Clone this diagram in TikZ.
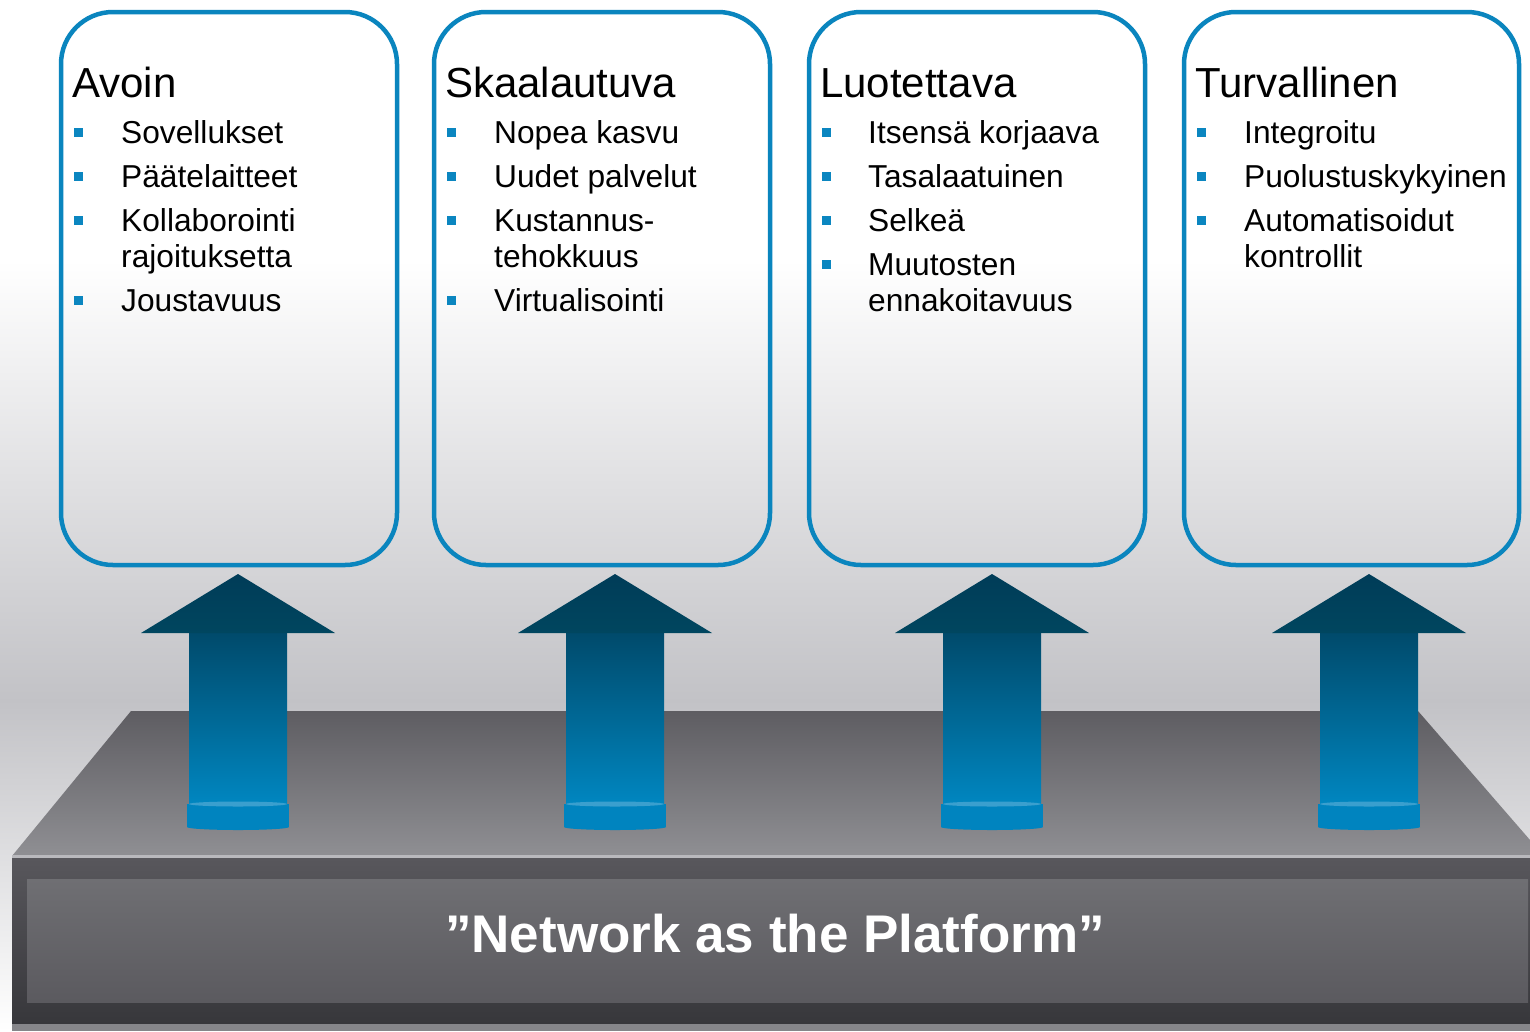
\documentclass[tikz,border=0pt]{standalone}
\usepackage{fontspec}
\setmainfont{Liberation Sans}
\definecolor{boxblue}{HTML}{0A85BE}
\definecolor{bulletblue}{HTML}{0B86C0}
\definecolor{bgmid}{HTML}{C2C2C6}
\definecolor{plattop}{HTML}{5E5D62}
\definecolor{platbot}{HTML}{8F8F93}
\definecolor{platline}{HTML}{B9B9BD}
\definecolor{frametop}{HTML}{58575C}
\definecolor{framebot}{HTML}{37373B}
\definecolor{innertop}{HTML}{6F6F73}
\definecolor{innerbot}{HTML}{5B5A5F}
\definecolor{platbottomline}{HTML}{86868A}
\definecolor{arrowtop}{HTML}{003C58}
\definecolor{arrowhb}{HTML}{00465F}
\definecolor{arrowmid}{HTML}{004A6B}
\definecolor{arrowmm}{HTML}{0072A3}
\definecolor{arrowbot}{HTML}{0087C1}
\definecolor{cyl}{HTML}{0084BF}
\definecolor{cyltop}{HTML}{3A9FCE}
\tikzset{
  colbox/.style={draw=boxblue, line width=4.5pt, rounded corners=52pt},
  titletext/.style={font=\fontsize{42}{50}\selectfont, anchor=base west, inner sep=0pt, text=black},
  itemtext/.style={font=\fontsize{31.7}{36}\selectfont, anchor=base west, inner sep=0pt, text=black},
  bulletsq/.style={fill=bulletblue},
}
\newcommand{\bul}[2]{\fill[bulletsq] ({#1-4.5},{#2-15.5}) rectangle ({#1+4.5},{#2-6.5});}
\begin{document}
\begin{tikzpicture}[x=1pt,y=-1pt]
\useasboundingbox (0,0) rectangle (1530,1031);
% background
\fill[white] (0,0) rectangle (1530,262);
\shade[top color=white,bottom color=bgmid] (0,260) rectangle (1530,702);
\shade[top color=bgmid,bottom color=white] (0,700) rectangle (1530,1031);
% platform
\shade[top color=plattop,bottom color=platbot] (131,711) -- (1418,711) -- (1530,840) -- (1530,856) -- (12,856) -- cycle;
\fill[platline] (12,855) rectangle (1530,858);
\shade[top color=frametop,bottom color=framebot] (12,858) rectangle (1530,1024);
\shade[top color=innertop,bottom color=innerbot] (27,879) rectangle (1528,1002);
\fill[platbottomline] (12,1024) rectangle (1530,1031);
\node[font=\bfseries\fontsize{53}{60}\selectfont, text=white, anchor=base, inner sep=0pt] (platform) at (775,952) {”Network as the Platform”};
% arrows
\foreach \cx [count=\i] in {238,615,992,1369} {
  \shade[top color=arrowmid, middle color=arrowmm, bottom color=arrowbot] ({\cx-49},632) rectangle ({\cx+49},806);
  \shade[top color=arrowtop, bottom color=arrowhb] (\cx,574) -- ({\cx+97},633) -- ({\cx-97},633) -- cycle;
  \fill[cyl] ({\cx-51},804) rectangle ({\cx+51},827);
  \fill[cyl] (\cx,827) ellipse [x radius=51, y radius=3];
  \fill[cyltop] (\cx,804) ellipse [x radius=49, y radius=2.5];
}
% boxes
\draw[colbox] (61,12) rectangle (397,565);
\draw[colbox] (434,12) rectangle (770,565);
\draw[colbox] (809,12) rectangle (1145,565);
\draw[colbox] (1184,12) rectangle (1519,565);
% box 1
\node[titletext] (t1) at (72,97) {Avoin};
\bul{78}{143}\node[itemtext] (a1) at (121,143) {Sovellukset};
\bul{78}{187}\node[itemtext] (a2) at (121,187) {Päätelaitteet};
\bul{78}{231}\node[itemtext] (a3) at (121,231) {Kollaborointi};
\node[itemtext] (a3b) at (121,267) {rajoituksetta};
\bul{78}{311}\node[itemtext] (a4) at (121,311) {Joustavuus};
% box 2
\node[titletext] (t2) at (445,97) {Skaalautuva};
\bul{451}{143}\node[itemtext] (b1) at (494,143) {Nopea kasvu};
\bul{451}{187}\node[itemtext] (b2) at (494,187) {Uudet palvelut};
\bul{451}{231}\node[itemtext] (b3) at (494,231) {Kustannus-};
\node[itemtext] (b3b) at (494,267) {tehokkuus};
\bul{451}{311}\node[itemtext] (b4) at (494,311) {Virtualisointi};
% box 3
\node[titletext] (t3) at (820,97) {Luotettava};
\bul{826}{143}\node[itemtext] (c1) at (868,143) {Itsensä korjaava};
\bul{826}{187}\node[itemtext] (c2) at (868,187) {Tasalaatuinen};
\bul{826}{231}\node[itemtext] (c3) at (868,231) {Selkeä};
\bul{826}{275}\node[itemtext] (c4) at (868,275) {Muutosten};
\node[itemtext] (c4b) at (868,311) {ennakoitavuus};
% box 4
\node[titletext] (t4) at (1195,97) {Turvallinen};
\bul{1201}{143}\node[itemtext] (d1) at (1244,143) {Integroitu};
\bul{1201}{187}\node[itemtext] (d2) at (1244,187) {Puolustuskykyinen};
\bul{1201}{231}\node[itemtext] (d3) at (1244,231) {Automatisoidut};
\node[itemtext] (d3b) at (1244,267) {kontrollit};
\end{tikzpicture}
\end{document}
